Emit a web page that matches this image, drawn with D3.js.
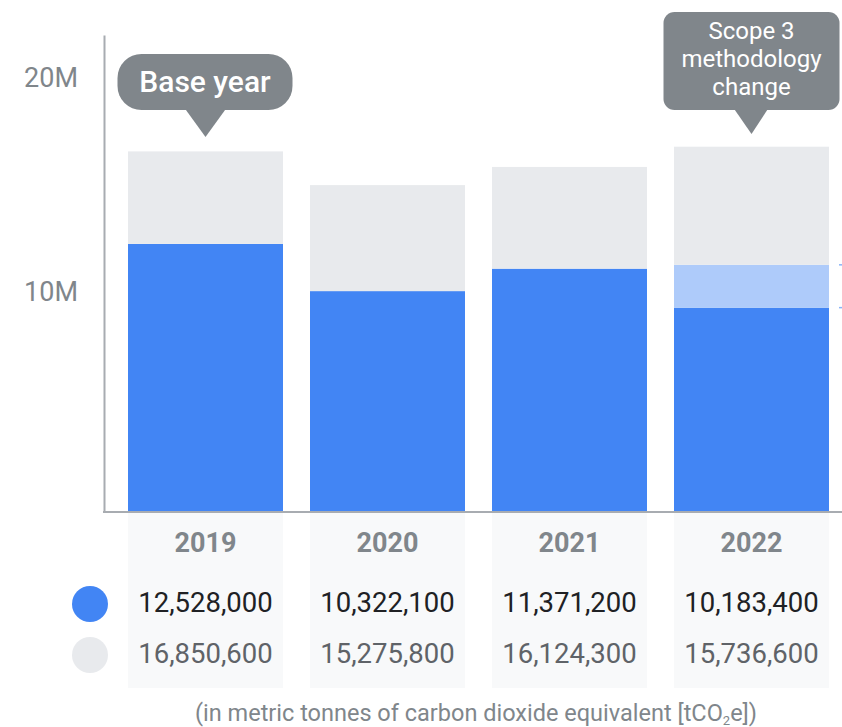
<!DOCTYPE html>
<html lang="en">
<head>
  <meta charset="UTF-8">
  <title>Emissions 2019-2022</title>
  <style>
    body { margin: 0; background: #fff; }
    svg { display: block; font-family: Roboto, "Open Sans", sans-serif; }
  </style>
</head>
<body>
  <div id="chart"></div>
  <script src="https://d3js.org/d3.v7.min.js"></script>
  <script>

    // table values
    const years = ["2019", "2020", "2021", "2022"];
    const ambitionRow = [12528000, 10322100, 11371200, 10183400];
    const totalRow = [16850600, 15275800, 16124300, 15736600];

    // bar heights as drawn (2022 drawn with the methodology change)
    const barBlue = [12528000, 10322100, 11371200, 9550000];
    const barAdded = [0, 0, 0, 2000000];
    const barTotal = [16850600, 15275800, 16124300, 17070000];

    const yTicks = [10000000, 20000000];
    const note = "(in metric tonnes of carbon dioxide equivalent [tCO";

    const width = 842,
          height = 727,
          margin = {top: 35, right: 13, bottom: 215, left: 128};

    const blue = "#4285f4", lightBlue = "#aecbfa", grey = "#e8eaed",
          bubble = "#80868b";

    const svg = d3.select("#chart")
      .append("svg")
      .attr("width", width)
      .attr("height", height);

    let x = d3.scaleBand(years, [margin.left, width - margin.right])
      .paddingInner(27 / 182)
      .paddingOuter(0);

    let y = d3.scaleLinear([0, 22290000], [height - margin.bottom, margin.top]);
    const base = y(0);

    // light table column backgrounds
    svg.append("g")
      .selectAll("rect")
      .data(years)
      .join("rect")
      .attr("x", d => x(d))
      .attr("y", base)
      .attr("width", x.bandwidth())
      .attr("height", 176)
      .attr("fill", "#f8f9fa");

    // stacked bars
    const barData = years.map((yr, i) => ({
      year: yr, blue: barBlue[i], added: barAdded[i], rest: barTotal[i] - barBlue[i] - barAdded[i]
    }));
    const keys = ["blue", "added", "rest"];
    const color = d3.scaleOrdinal(keys, [blue, lightBlue, grey]);
    const stacked = d3.stack().keys(keys)(barData);

    svg.append("g")
      .selectAll("g")
      .data(stacked)
      .join("g")
      .attr("fill", d => color(d.key))
      .selectAll("rect")
      .data(d => d)
      .join("rect")
      .attr("x", d => x(d.data.year))
      .attr("y", d => y(d[1]))
      .attr("height", d => y(d[0]) - y(d[1]))
      .attr("width", x.bandwidth());

    // y axis
    const yAxis = svg.append("g")
      .attr("transform", `translate(104,0)`)
      .call(d3.axisLeft(y).tickValues(yTicks).tickSize(0).tickPadding(26).tickFormat(d3.format("~s")));
    yAxis.select(".domain").attr("stroke", "#a8acb1").attr("stroke-width", 2);
    yAxis.selectAll("text")
      .attr("fill", bubble)
      .attr("dy", "0.1em")
      .style("font-size", "27px")
      .style("font-family", "Roboto, sans-serif");

    // baseline
    svg.append("line")
      .attr("x1", 103).attr("x2", width)
      .attr("y1", base).attr("y2", base)
      .attr("stroke", "#a8acb1")
      .attr("stroke-width", 2);

    // little marks on the right edge (cut off bracket)
    svg.append("g")
      .selectAll("line")
      .data([barBlue[3], barBlue[3] + barAdded[3]])
      .join("line")
      .attr("x1", 839).attr("x2", 843)
      .attr("y1", d => y(d)).attr("y2", d => y(d))
      .attr("stroke", "#8ab4f8")
      .attr("stroke-width", 1.5);

    // callout: Base year
    const cx0 = x("2019") + x.bandwidth() / 2;
    const b1 = svg.append("g");
    b1.append("rect")
      .attr("x", cx0 - 88).attr("y", 54)
      .attr("width", 175).attr("height", 56)
      .attr("rx", 24)
      .attr("fill", bubble);
    b1.append("path")
      .attr("d", `M${cx0 - 21},108 L${cx0 + 21},108 L${cx0},137 Z`)
      .attr("fill", bubble);
    b1.append("text")
      .attr("x", cx0 - 0.5).attr("y", 92)
      .attr("text-anchor", "middle")
      .attr("fill", "#fff")
      .style("font-size", "30px")
      .style("font-weight", 500)
      .text("Base year");

    // callout: Scope 3 methodology change
    const cx3 = x("2022") + x.bandwidth() / 2;
    const b2 = svg.append("g");
    b2.append("rect")
      .attr("x", cx3 - 88).attr("y", 12)
      .attr("width", 176).attr("height", 98)
      .attr("rx", 11)
      .attr("fill", bubble);
    b2.append("path")
      .attr("d", `M${cx3 - 18},108 L${cx3 + 17},108 L${cx3},134 Z`)
      .attr("fill", bubble);
    b2.append("text")
      .attr("text-anchor", "middle")
      .attr("fill", "#fff")
      .style("font-size", "24px")
      .selectAll("tspan")
      .data(["Scope 3", "methodology", "change"])
      .join("tspan")
      .attr("x", cx3)
      .attr("y", (d, i) => 39 + i * 28)
      .text(d => d);

    // table: years
    svg.append("g")
      .selectAll("text")
      .data(years)
      .join("text")
      .attr("x", d => x(d) + x.bandwidth() / 2)
      .attr("y", 552)
      .attr("text-anchor", "middle")
      .attr("fill", "#80868b")
      .style("font-size", "27px")
      .style("font-weight", 700)
      .text(d => d);

    const fmt = d3.format(",");
    svg.append("g")
      .selectAll("text")
      .data(ambitionRow)
      .join("text")
      .attr("x", (d, i) => x(years[i]) + x.bandwidth() / 2)
      .attr("y", 612)
      .attr("text-anchor", "middle")
      .attr("fill", "#202124")
      .style("font-size", "27.5px")
      .text(d => fmt(d));

    svg.append("g")
      .selectAll("text")
      .data(totalRow)
      .join("text")
      .attr("x", (d, i) => x(years[i]) + x.bandwidth() / 2)
      .attr("y", 663)
      .attr("text-anchor", "middle")
      .attr("fill", "#5f6368")
      .style("font-size", "27.5px")
      .text(d => fmt(d));

    // legend dots
    svg.append("g")
      .selectAll("circle")
      .data([blue, grey])
      .join("circle")
      .attr("cx", 90)
      .attr("cy", (d, i) => 604 + i * 51)
      .attr("r", 18)
      .attr("fill", d => d);

    // units note
    const t = svg.append("text")
      .attr("x", 476).attr("y", 721)
      .attr("text-anchor", "middle")
      .attr("fill", "#80868b")
      .style("font-size", "23.5px");
    t.append("tspan").text(note);
    t.append("tspan").attr("dy", 4).style("font-size", "13px").text("2");
    t.append("tspan").attr("dy", -4).text("e])");

  </script>
</body>
</html>
